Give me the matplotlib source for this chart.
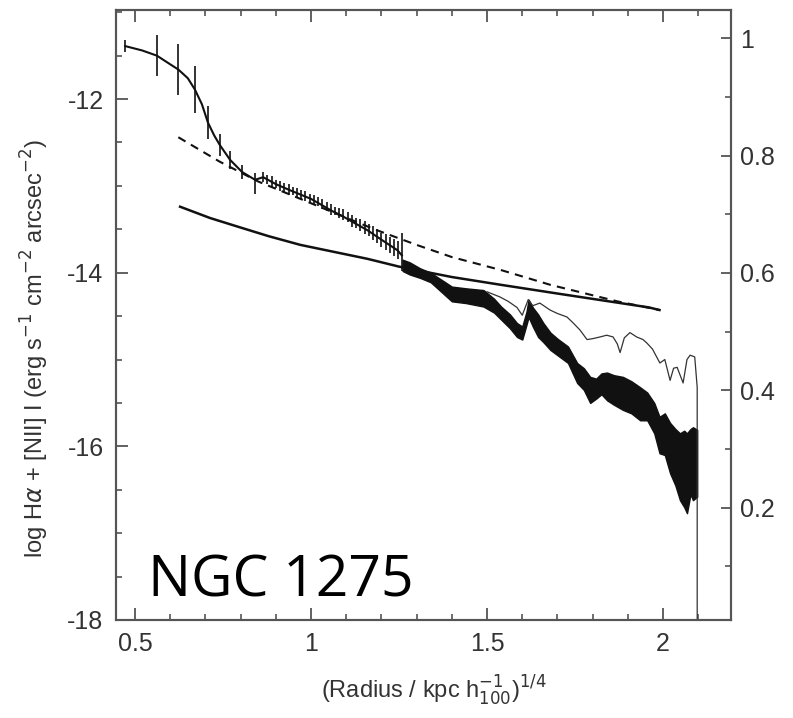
import numpy as np
import matplotlib
matplotlib.use('Agg')
import matplotlib.pyplot as plt
from matplotlib.ticker import MultipleLocator

# ---- data ----
# upper profile (solid curve through the error bars)
prof_x = [0.472, 0.52, 0.562, 0.60, 0.623, 0.65, 0.670, 0.69, 0.707, 0.725, 0.741, 0.770,
          0.804, 0.841, 0.864, 0.90, 0.94, 0.97, 1.0, 1.03, 1.06, 1.09, 1.12, 1.16, 1.20,
          1.23, 1.245, 1.258]
prof_y = [-11.39, -11.44, -11.50, -11.60, -11.66, -11.76, -11.89, -12.06, -12.27, -12.42,
          -12.53, -12.70, -12.84, -12.93, -12.90, -12.98, -13.05, -13.10, -13.15, -13.22,
          -13.29, -13.35, -13.42, -13.51, -13.62, -13.70, -13.74, -13.80]

# error bars on the inner profile
bar_x = [0.472, 0.562, 0.623, 0.670, 0.707, 0.741, 0.770, 0.804, 0.841,
         0.864, 0.876, 0.888, 0.900, 0.912, 0.924, 0.936, 0.948, 0.960, 0.972, 0.984,
         0.996, 1.008, 1.020, 1.032, 1.044, 1.056, 1.068, 1.080, 1.092, 1.104, 1.116,
         1.128, 1.140, 1.152, 1.164, 1.176, 1.188, 1.200, 1.212, 1.224, 1.236, 1.248, 1.258]
bar_y = [-11.39, -11.50, -11.66, -11.89, -12.27, -12.53, -12.70, -12.84, -12.97,
         -12.90, -12.93, -12.95, -12.98, -13.00, -13.02, -13.04, -13.06, -13.08, -13.10,
         -13.12, -13.14, -13.16, -13.18, -13.21, -13.24, -13.27, -13.29, -13.31, -13.33,
         -13.36, -13.40, -13.43, -13.45, -13.48, -13.51, -13.54, -13.58, -13.62, -13.65,
         -13.68, -13.71, -13.74, -13.76]
bar_err = [0.07, 0.24, 0.29, 0.27, 0.19, 0.13, 0.10, 0.08, 0.12,
           0.06, 0.05, 0.06, 0.05, 0.06, 0.05, 0.06, 0.05, 0.06, 0.05, 0.06,
           0.05, 0.06, 0.05, 0.06, 0.05, 0.06, 0.05, 0.06, 0.06, 0.06, 0.07,
           0.06, 0.07, 0.07, 0.07, 0.08, 0.08, 0.08, 0.09, 0.09, 0.10, 0.10, 0.22]

# outer profile: dense error bars merge into a black band
band_x = [1.26, 1.28, 1.31, 1.34, 1.37, 1.40, 1.44, 1.49, 1.52, 1.54, 1.565, 1.585, 1.60,
          1.612, 1.618, 1.63, 1.645, 1.66, 1.68, 1.70, 1.73, 1.756, 1.775, 1.793, 1.81,
          1.825, 1.841, 1.86, 1.886, 1.91, 1.935, 1.955, 1.975, 1.99, 2.005, 2.02, 2.035,
          2.048, 2.06, 2.068, 2.078, 2.085, 2.097]
band_hi = [-13.85, -13.88, -13.95, -14.00, -14.08, -14.16, -14.18, -14.20, -14.30, -14.39,
           -14.48, -14.58, -14.62, -14.45, -14.31, -14.40, -14.48, -14.58, -14.69, -14.76,
           -14.85, -15.04, -15.10, -15.20, -15.22, -15.16, -15.15, -15.18, -15.20, -15.25,
           -15.32, -15.38, -15.50, -15.66, -15.62, -15.73, -15.80, -15.85, -15.82, -15.85,
           -15.80, -15.78, -15.81]
band_lo = [-13.98, -14.02, -14.06, -14.11, -14.22, -14.33, -14.35, -14.39, -14.46, -14.54,
           -14.64, -14.74, -14.77, -14.60, -14.51, -14.62, -14.74, -14.80, -14.89, -14.95,
           -15.04, -15.27, -15.35, -15.50, -15.45, -15.40, -15.47, -15.52, -15.58, -15.62,
           -15.70, -15.70, -15.85, -16.08, -16.10, -16.31, -16.45, -16.62, -16.70, -16.77,
           -16.55, -16.62, -16.58]

# thin outer profile
thin_x = [1.50, 1.537, 1.56, 1.585, 1.60, 1.617, 1.63, 1.65, 1.679, 1.70, 1.727, 1.745,
          1.764, 1.784, 1.80, 1.821, 1.84, 1.858, 1.87, 1.878, 1.89, 1.906, 1.925, 1.943,
          1.954, 1.97, 1.991, 2.005, 2.02, 2.03, 2.04, 2.057, 2.068, 2.077, 2.09, 2.097, 2.097]
thin_y = [-14.22, -14.28, -14.33, -14.40, -14.49, -14.31, -14.38, -14.35, -14.43, -14.47,
          -14.51, -14.58, -14.66, -14.77, -14.76, -14.74, -14.72, -14.74, -14.82, -14.92,
          -14.75, -14.69, -14.74, -14.77, -14.81, -14.88, -15.04, -15.00, -15.24, -15.10,
          -15.09, -15.27, -15.00, -14.95, -14.97, -15.32, -18.0]

# model curves
dash_x = [0.623, 0.74, 0.85, 1.0, 1.18, 1.30, 1.40, 1.54, 1.68, 1.87, 1.99]
dash_y = [-12.44, -12.72, -12.95, -13.20, -13.50, -13.68, -13.82, -13.97, -14.14, -14.33, -14.43]

low_x = [0.628, 0.713, 0.80, 0.88, 0.97, 1.16, 1.25, 1.40, 1.54, 1.70, 1.96, 1.99]
low_y = [-13.24, -13.37, -13.48, -13.58, -13.68, -13.84, -13.93, -14.05, -14.14, -14.24,
         -14.40, -14.43]

fig = plt.figure(figsize=(7.93, 7.18), dpi=100)
ax = fig.add_axes([0.1463, 0.1365, 0.7755, 0.8495])

ink = '#111111'
ax.plot(prof_x, prof_y, color=ink, lw=1.5)
ax.errorbar(bar_x, bar_y, yerr=bar_err, fmt='none', ecolor=ink, elinewidth=1.2, capsize=0)
ax.fill_between(band_x, band_lo, band_hi, color=ink, lw=1.0, edgecolor=ink)
ax.plot(thin_x, thin_y, color='#333333', lw=0.9)
ax.plot(dash_x, dash_y, color=ink, lw=1.5, ls=(0, (4, 3)))
ax.plot(low_x, low_y, color=ink, lw=1.8)

ax.set_xlim(0.446, 2.193)
ax.set_ylim(-18, -10.975)

spine_col = '#555555'
for s in ax.spines.values():
    s.set_color(spine_col)
    s.set_linewidth(1.5)

lab_font = {'family': 'Liberation Sans', 'size': 17, 'color': '#333333'}

ax.xaxis.set_major_locator(MultipleLocator(0.5))
ax.xaxis.set_minor_locator(MultipleLocator(0.1))
ax.yaxis.set_major_locator(MultipleLocator(2))
ax.yaxis.set_minor_locator(MultipleLocator(0.5))
ax.tick_params(which='both', direction='in', top=True, right=False, colors=spine_col,
               labelcolor='#333333', labelsize=18)
ax.tick_params(which='major', length=8.5, width=1.3, pad=9)
ax.tick_params(which='minor', length=4.3, width=1.2)
ax.set_xticks([0.5, 1, 1.5, 2])
ax.set_xticklabels(['0.5', '1', '1.5', '2'])
ax.set_yticks([-18, -16, -14, -12])
ax.set_yticklabels(['-18', '-16', '-14', '-12'])
for t in ax.get_xticklabels() + ax.get_yticklabels():
    t.set_family('Liberation Sans')

# right axis (scale on the right)
ax2 = ax.twinx()
ax2.set_ylim(0.0085, 1.048)
ax2.yaxis.set_major_locator(MultipleLocator(0.2))
ax2.yaxis.set_minor_locator(MultipleLocator(0.1))
ax2.set_yticks([0.2, 0.4, 0.6, 0.8, 1.0])
ax2.set_yticklabels(['0.2', '0.4', '0.6', '0.8', '1'])
ax2.tick_params(which='both', direction='in', colors=spine_col, labelcolor='#333333',
                labelsize=18)
ax2.tick_params(which='major', length=7.5, width=1.3, pad=6.5)
ax2.tick_params(which='minor', length=4.0, width=1.2)
for t in ax2.get_yticklabels():
    t.set_family('Liberation Sans')
for s in ax2.spines.values():
    s.set_color(spine_col)
    s.set_linewidth(1.5)

ax.set_ylabel(r'log H$\alpha$ + [NII] I (erg s$^{-1}$ cm$^{-2}$ arcsec$^{-2}$)', fontdict=lab_font)
ax.yaxis.set_label_coords(-0.105, 0.446)
ax.set_xlabel(r'(Radius / kpc h$_{100}^{-1}$)$^{1/4}$', fontdict=lab_font)
ax.xaxis.set_label_coords(0.517, -0.088)

ax.text(0.052, 0.038, 'NGC 1275', transform=ax.transAxes, family='Open Sans',
        fontsize=41, color='black', va='baseline', ha='left')

fig.savefig('out.png', dpi=100)
